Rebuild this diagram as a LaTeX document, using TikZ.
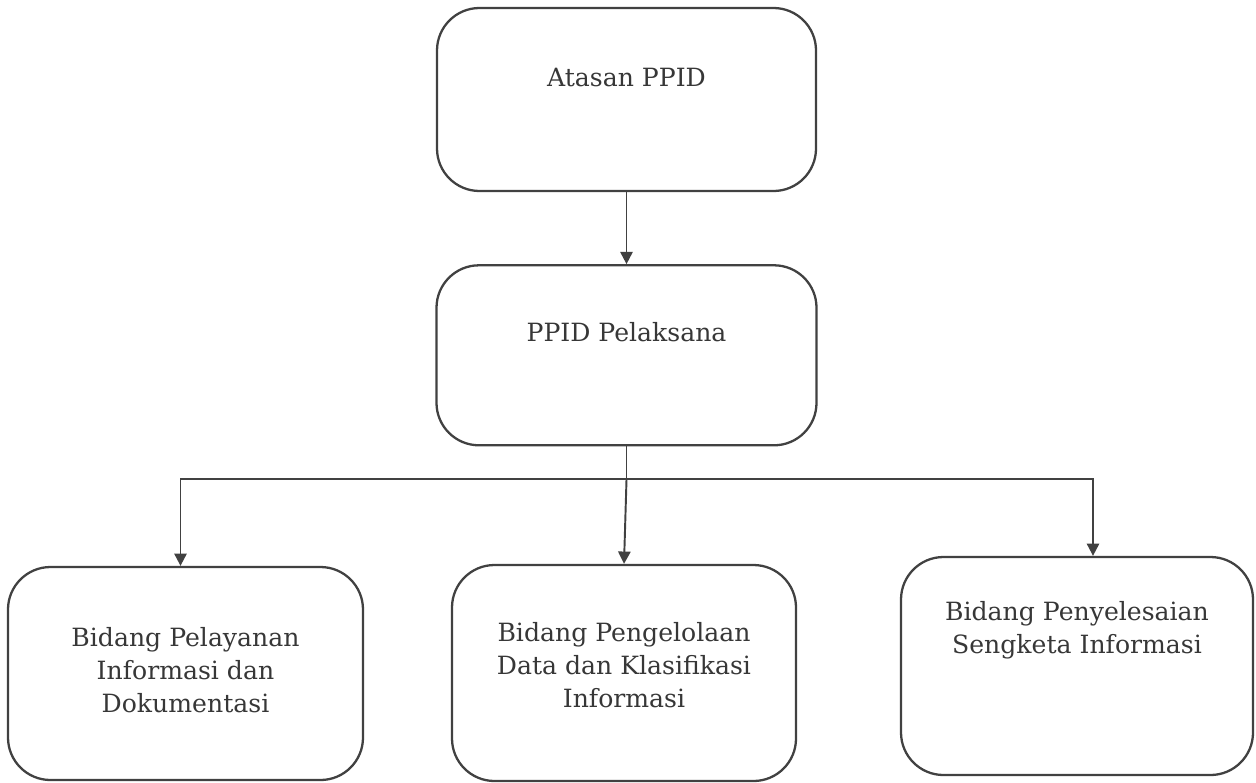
\documentclass[tikz,border=0pt]{standalone}
\usepackage{fontspec}
\setmainfont{DejaVu Serif}
\usepackage{xcolor}
\usepackage{tikz}
\usetikzlibrary{arrows.meta,positioning,calc}
\definecolor{inkline}{RGB}{65,65,65}
\definecolor{inktext}{RGB}{55,55,55}

\begin{document}
\begin{tikzpicture}[
    unit/.style={rectangle, draw=inkline, line width=1.3pt, rounded corners=0.85cm},
    caption/.style={align=center, text=inktext, font=\fontsize{14.3}{18.8}\selectfont},
    link/.style={draw=inkline, line width=1.1pt},
    arr/.style={link, -{Triangle[width=7pt,length=7pt]}},
    node distance=1.44cm
]
    \useasboundingbox (0,0) rectangle (25.12,-15.64);
    \node[unit, minimum width=7.58cm, minimum height=3.66cm] (atasan) at (12.53,-1.99) {};
    \node[unit, minimum width=7.6cm, minimum height=3.6cm, below=of atasan] (pelaksana) {};
    \node[unit, minimum width=7.1cm, minimum height=4.26cm] (pelayanan) at (3.71,-13.47) {};
    \node[unit, minimum width=6.88cm, minimum height=4.32cm] (pengelolaan) at (12.48,-13.46) {};
    \node[unit, minimum width=7.04cm, minimum height=4.36cm] (sengketa) at (21.54,-13.32) {};

    \node[caption] (atasan-t) at ([yshift=0.43cm]atasan.center) {Atasan PPID};
    \node[caption] (pelaksana-t) at ([yshift=0.46cm]pelaksana.center) {PPID Pelaksana};
    \node[caption] (pelayanan-t) at ([yshift=0.07cm]pelayanan.center) {Bidang Pelayanan\\Informasi dan\\Dokumentasi};
    \node[caption] (pengelolaan-t) at ([yshift=0.16cm]pengelolaan.center) {Bidang Pengelolaan\\Data dan Klasifikasi\\Informasi};
    \node[caption] (sengketa-t) at ([yshift=0.72cm]sengketa.center) {Bidang Penyelesaian\\Sengketa Informasi};

    \draw[arr] (atasan.south) -- (pelaksana.north);
    \draw[link] (pelaksana.south) -- ++(0,-0.66) coordinate (split);
    \draw[arr] (split) -| ([xshift=-0.1cm]pelayanan.north);
    \draw[arr] (split) -- (pengelolaan.north);
    \draw[arr] (split) -| ([xshift=0.32cm]sengketa.north);
\end{tikzpicture}
\end{document}
